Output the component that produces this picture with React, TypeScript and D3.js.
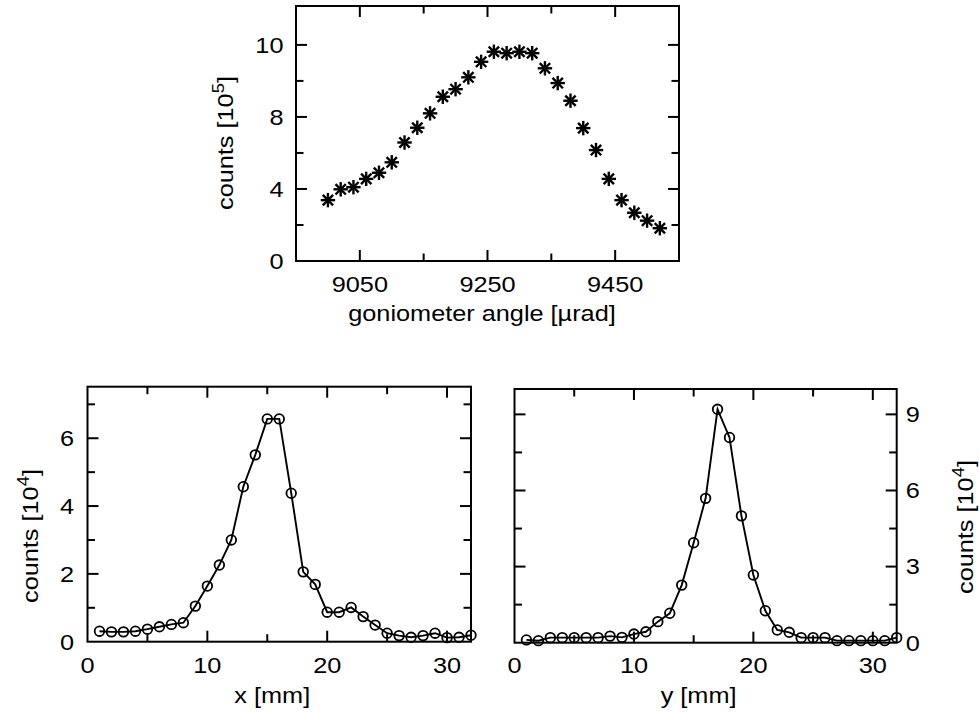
import React from 'react';
import * as d3 from 'd3';

// top panel: goniometer scan (counts in units shown on the axis)
const angles = d3.range(27).map(i => 9000 + i * 20);
const angleCounts = [
  3.38, 3.98, 4.1, 4.56, 4.9, 5.48, 6.58, 7.4, 8.2, 9.12, 9.54, 10.2, 11.06, 11.62,
  11.54, 11.62, 11.54, 10.7, 9.88, 8.9, 7.38, 6.16, 4.56, 3.38, 2.68, 2.24, 1.82,
];
const angleTicks = [9050, 9150, 9250, 9350, 9450];
const angleTickLabels = ['9050', '', '9250', '', '9450'];
const topYTicks = [2, 4, 6, 8, 10, 12];
const topYTickLabels = ['', '4', '', '8', '', '10'];

// bottom panels: position scans
const positions = d3.range(1, 33);
const xCounts = [
  0.31, 0.29, 0.29, 0.31, 0.37, 0.44, 0.51, 0.56, 1.05, 1.64, 2.26, 3.0, 4.57, 5.51, 6.57, 6.57,
  4.38, 2.06, 1.69, 0.87, 0.87, 1.01, 0.74, 0.49, 0.25, 0.18, 0.13, 0.18, 0.25, 0.12, 0.13, 0.19,
];
const yCounts = [
  0.11, 0.08, 0.2, 0.2, 0.2, 0.2, 0.2, 0.26, 0.21, 0.34, 0.43, 0.83, 1.16, 2.27, 3.94, 5.69,
  9.2, 8.09, 5.0, 2.67, 1.26, 0.5, 0.41, 0.2, 0.2, 0.2, 0.08, 0.08, 0.08, 0.08, 0.08, 0.2,
];
const posTicks = [5, 10, 15, 20, 25, 30];
const posTickLabels = ['', '10', '', '20', '', '30'];
const xPanelYTicks = [1, 2, 3, 4, 5, 6, 7];
const xPanelYTickLabels = ['', '2', '', '4', '', '6', ''];
const yPanelYTicks = [1.5, 3, 4.5, 6, 7.5, 9];
const yPanelYTickLabels = ['', '3', '', '6', '', '9'];

const FONT = 'Liberation Sans, Arial, Helvetica, sans-serif';
const FS = 22;
const SX = 1.15; // text in the source is a bit wider than tall
const MAJOR = 11;
const MINOR = 7.5;

function Txt({ x, y, anchor = 'middle', rotate = 0, children }: any) {
  return (
    <text
      transform={`translate(${x},${y}) rotate(${rotate}) scale(${SX},1)`}
      textAnchor={anchor}
      fontFamily={FONT}
      fontSize={FS}
      fill="#000"
    >
      {children}
    </text>
  );
}

function Counts({ exp }: { exp: string }) {
  return (
    <>
      counts [10
      <tspan fontSize={16} dy={-9}>{exp}</tspan>
      <tspan dy={9}>]</tspan>
    </>
  );
}

function Frame({ x0, x1, y0, y1, xTicks, xLabels, xScale, yTicks, yLabels, yScale }: any) {
  return (
    <g stroke="#000" strokeWidth={2} fill="none">
      <rect x={x0} y={y0} width={x1 - x0} height={y1 - y0} />
      {xTicks.map((t: number, i: number) => {
        const len = xLabels[i] ? MAJOR : MINOR;
        const px = xScale(t);
        return (
          <g key={'x' + t}>
            <line x1={px} x2={px} y1={y1} y2={y1 - len} />
            <line x1={px} x2={px} y1={y0} y2={y0 + len} />
          </g>
        );
      })}
      {yTicks.map((t: number, i: number) => {
        const len = yLabels[i] ? MAJOR : MINOR;
        const py = yScale(t);
        return (
          <g key={'y' + t}>
            <line x1={x0} x2={x0 + len} y1={py} y2={py} />
            <line x1={x1} x2={x1 - len} y1={py} y2={py} />
          </g>
        );
      })}
    </g>
  );
}

function Star({ x, y }: { x: number; y: number }) {
  const r = 7.2;
  const d = r * 0.72;
  return (
    <g stroke="#000" strokeWidth={2.4}>
      <line x1={x - r} x2={x + r} y1={y} y2={y} />
      <line x1={x} x2={x} y1={y - r} y2={y + r} />
      <line x1={x - d} x2={x + d} y1={y - d} y2={y + d} />
      <line x1={x - d} x2={x + d} y1={y + d} y2={y - d} />
    </g>
  );
}

function TopPanel() {
  const x0 = 296, x1 = 679, y0 = 6, y1 = 261;
  const x = d3.scaleLinear().domain([8950, 9550]).range([x0, x1]);
  const y = d3.scaleLinear().domain([0, 14.16]).range([y1, y0]);
  return (
    <g>
      <Frame x0={x0} x1={x1} y0={y0} y1={y1} xTicks={angleTicks} xLabels={angleTickLabels} xScale={x}
        yTicks={topYTicks} yLabels={topYTickLabels} yScale={y} />
      {angles.map((a, i) => <Star key={a} x={x(a)} y={y(angleCounts[i])} />)}
      {angleTicks.map((t, i) => angleTickLabels[i] &&
        <Txt key={t} x={x(t)} y={291.5}>{angleTickLabels[i]}</Txt>)}
      <Txt x={283.5} y={y(0) + 7.9} anchor="end">0</Txt>
      {topYTicks.map((t, i) => topYTickLabels[i] &&
        <Txt key={t} x={283.5} y={y(t) + 7.9} anchor="end">{topYTickLabels[i]}</Txt>)}
      <Txt x={482} y={321}>goniometer angle [µrad]</Txt>
      <Txt x={233} y={143} rotate={-90}><Counts exp="5" /></Txt>
    </g>
  );
}

function ScanPanel({ x0, x1, y0, y1, yMax, counts, yTicks, yLabels, side, title }: any) {
  const x = d3.scaleLinear().domain([0, 32]).range([x0, x1]);
  const y = d3.scaleLinear().domain([0, yMax]).range([y1, y0]);
  const line = d3.line<number>().x((_, i) => x(positions[i])).y(d => y(d));
  const labelX = side === 'left' ? x0 - 13.5 : x1 + 9;
  const anchor = side === 'left' ? 'end' : 'start';
  return (
    <g>
      <Frame x0={x0} x1={x1} y0={y0} y1={y1} xTicks={posTicks} xLabels={posTickLabels} xScale={x}
        yTicks={yTicks} yLabels={yLabels} yScale={y} />
      <path d={line(counts) || ''} fill="none" stroke="#000" strokeWidth={1.9} />
      {counts.map((c: number, i: number) => (
        <circle key={i} cx={x(positions[i])} cy={y(c)} r={4.8} fill="none" stroke="#000" strokeWidth={1.8} />
      ))}
      <Txt x={x(0)} y={673}>0</Txt>
      {posTicks.map((t, i) => posTickLabels[i] &&
        <Txt key={t} x={x(t)} y={673}>{posTickLabels[i]}</Txt>)}
      <Txt x={labelX} y={y(0) + 7.9} anchor={anchor}>0</Txt>
      {yTicks.map((t: number, i: number) => yLabels[i] &&
        <Txt key={t} x={labelX} y={y(t) + 7.9} anchor={anchor}>{yLabels[i]}</Txt>)}
      <Txt x={(x0 + x1) / 2 - 7} y={703}>{title}</Txt>
      <Txt x={side === 'left' ? 38 : 973} y={side === 'left' ? 536 : 527} rotate={-90}><Counts exp="4" /></Txt>
    </g>
  );
}

export default function App() {
  return (
    <svg width={979} height={713} style={{ position: 'absolute', left: 0, top: 0, background: '#fff' }}>
      <rect width={979} height={713} fill="#fff" />
      <TopPanel />
      <ScanPanel x0={87.5} x1={471} y0={386.7} y1={641.7} yMax={7.52} counts={xCounts}
        yTicks={xPanelYTicks} yLabels={xPanelYTickLabels} side="left" title="x [mm]" />
      <ScanPanel x0={514.5} x1={896.7} y0={389} y1={642.7} yMax={10} counts={yCounts}
        yTicks={yPanelYTicks} yLabels={yPanelYTickLabels} side="right" title="y [mm]" />
    </svg>
  );
}
